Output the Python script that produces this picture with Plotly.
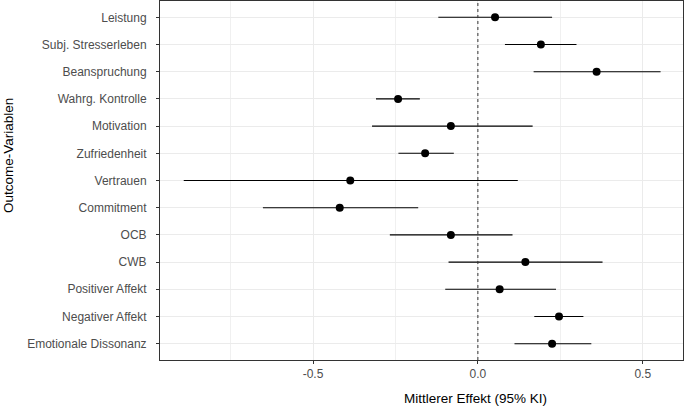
import plotly.graph_objects as go

categories = ["Leistung", "Subj. Stresserleben", "Beanspruchung", "Wahrg. Kontrolle",
              "Motivation", "Zufriedenheit", "Vertrauen", "Commitment", "OCB", "CWB",
              "Positiver Affekt", "Negativer Affekt", "Emotionale Dissonanz"]
effect = [0.052, 0.191, 0.360, -0.242, -0.082, -0.160, -0.387, -0.419, -0.082, 0.144, 0.066, 0.246, 0.225]
ci_low = [-0.120, 0.082, 0.169, -0.309, -0.321, -0.241, -0.892, -0.652, -0.267, -0.089, -0.099, 0.171, 0.111]
ci_high = [0.225, 0.299, 0.554, -0.176, 0.166, -0.073, 0.121, -0.181, 0.105, 0.378, 0.237, 0.320, 0.344]

err_plus = [h - e for h, e in zip(ci_high, effect)]
err_minus = [e - l for e, l in zip(effect, ci_low)]

fig = go.Figure()
fig.add_trace(go.Scatter(
    x=effect, y=categories, mode="markers",
    marker=dict(color="black", size=8),
    error_x=dict(type="data", symmetric=False, array=err_plus, arrayminus=err_minus,
                 color="black", thickness=1.1, width=0),
    showlegend=False,
))

fig.add_shape(type="line", xref="x", yref="paper", x0=0, x1=0, y0=0, y1=1,
              line=dict(color="#333333", width=1, dash="3px,3px"))

FONT = "Liberation Sans, Arial, sans-serif"
axis_font = dict(family=FONT, size=12, color="#4d4d4d")
title_font = dict(family=FONT, size=13.5, color="black")

W, H = 685, 408
ML, MR, MT, MB = 160, 2, 1, 48
pw = W - ML - MR
ph = H - MT - MB

fig.add_annotation(text="Mittlerer Effekt (95% KI)", xref="paper", yref="paper",
                   x=(475 - ML) / pw, y=-(398 - (H - MB)) / ph,
                   xanchor="center", yanchor="middle", showarrow=False, font=title_font)
fig.add_annotation(text="Outcome-Variablen", xref="paper", yref="paper",
                   x=-(ML - 8) / pw, y=1 - (155 - MT) / ph, textangle=-90,
                   xanchor="center", yanchor="middle", showarrow=False, font=title_font)

fig.update_layout(
    width=W, height=H,
    margin=dict(l=ML, r=MR, t=MT, b=MB),
    paper_bgcolor="white", plot_bgcolor="white",
    font=dict(family=FONT),
    xaxis=dict(
        range=[-0.964, 0.622],
        tickvals=[-0.5, 0.0, 0.5], ticktext=["-0.5", "0.0", "0.5"],
        ticks="outside", ticklen=3, tickcolor="#333333", tickwidth=1,
        tickfont=axis_font,
        showgrid=True, gridcolor="#ebebeb", gridwidth=1,
        minor=dict(tickvals=[-0.75, -0.25, 0.25], showgrid=True, gridcolor="#f0f0f0", gridwidth=1),
        showline=True, linecolor="#333333", linewidth=1, mirror=True,
        zeroline=False,
    ),
    yaxis=dict(
        categoryorder="array", categoryarray=categories,
        range=[12.6, -0.6],
        ticks="outside", ticklen=3, tickcolor="#333333", tickwidth=1,
        tickfont=axis_font, ticklabelstandoff=7,
        showgrid=True, gridcolor="#ebebeb", gridwidth=1,
        showline=True, linecolor="#333333", linewidth=1, mirror=True,
        zeroline=False,
    ),
)

fig.write_html("out.html", config={"displayModeBar": False},
               post_script="document.body.style.margin='0px';")
